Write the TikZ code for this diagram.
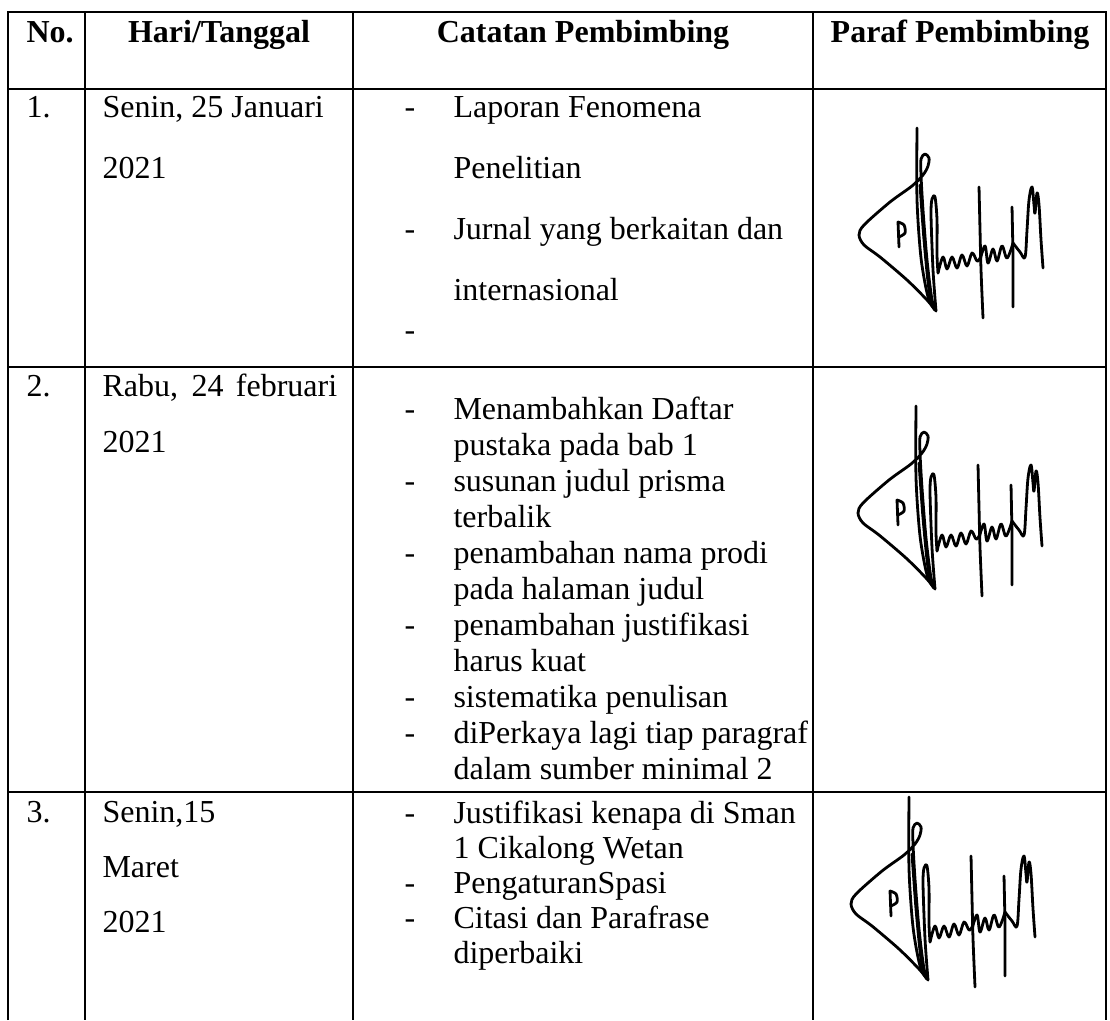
\documentclass[tikz,border=0pt]{standalone}
\usepackage{fontspec}
\setmainfont{Liberation Serif}
\begin{document}
\begin{tikzpicture}[x=0.375pt,y=-0.375pt]
% Gaya
\tikzstyle{cadre}=[line width=0.75pt]
\tikzstyle{isi}=[anchor=base west,inner sep=0pt,font=\fontsize{12}{14}\selectfont]
\tikzstyle{judul}=[anchor=base,inner sep=0pt,font=\fontsize{12}{14}\selectfont\bfseries]
\tikzstyle{tanda}=[line width=1.05pt,line cap=round,line join=round]
% Batas kolom
\def\kiri{8}
\def\kolA{85}
\def\kolB{353}
\def\kolC{813}
\def\kanan{1106}
% Batas baris
\def\atas{12}
\def\barisA{89}
\def\barisB{367}
\def\barisC{792}
\def\bawah{1020}
% Posisi teks
\def\xno{26}
\def\xtgl{102}
\def\xstrip{404}
\def\xcat{453}
% Paraf (tanda tangan)
\def\paraf{%
\draw[tanda] plot[smooth] coordinates {(917,128) (917,200) (921,258) (928,297) (935,310)};
\draw[tanda] plot[smooth] coordinates {(935,310) (927,300) (907,280) (880,257) (864,245) (859,235) (864,225) (890,202) (912,186) (923,175) (928,166) (929,158) (925,154) (921,159) (921,175) (923,210) (927,260) (932,300) (936,311)};
\draw[tanda] plot[smooth] coordinates {(920,185) (924,240) (929,290) (934,308)};
\draw[tanda] plot[smooth] coordinates {(936,311) (933,270) (931,215) (932,199) (935,197) (937,220) (937,255) (938,273)};
\draw[tanda] plot[smooth, tension=0.6] coordinates {(938,273) (943,257) (947,269) (952,257) (957,268) (962,255) (967,266) (972,253) (977,261) (980,258)};
\draw[tanda] plot[smooth] coordinates {(979,187) (980,230) (981,270) (983,318)};
\draw[tanda] plot[smooth, tension=0.6] coordinates {(980,260) (985,246) (988,263) (993,249) (997,261) (1002,246) (1007,258) (1013,243)};
\draw[tanda] plot[smooth] coordinates {(1012,207) (1013,260) (1013,307)};
\draw[tanda] plot[smooth, tension=0.6] coordinates {(1013,243) (1020,252) (1025,257) (1027,230) (1029,200) (1032,187) (1034,205) (1035,213) (1037,193) (1039,205) (1041,240) (1043,268)};
\draw[tanda] (898,222) -- (899,247);
\draw[tanda] plot[smooth] coordinates {(898,222) (904,225) (905,233) (899,237)};
}
\useasboundingbox (0,0) rectangle (1110,1020);
% Bingkai tabel
\draw[cadre] (\kiri,\bawah) -- (\kiri,\atas) -- (\kanan,\atas) -- (\kanan,\bawah);
\draw[cadre] (\kolA,\atas) -- (\kolA,\bawah);
\draw[cadre] (\kolB,\atas) -- (\kolB,\bawah);
\draw[cadre] (\kolC,\atas) -- (\kolC,\bawah);
\draw[cadre] (\kiri,\barisA) -- (\kanan,\barisA);
\draw[cadre] (\kiri,\barisB) -- (\kanan,\barisB);
\draw[cadre] (\kiri,\barisC) -- (\kanan,\barisC);
% Baris judul
\node[isi,font=\fontsize{12}{14}\selectfont\bfseries] (noJ) at (\xno,43) {No.};
\node[judul] (hariJ) at (219,43) {Hari/Tanggal};
\node[judul] (catJ) at (583,43) {Catatan Pembimbing};
\node[judul] (parafJ) at (960,43) {Paraf Pembimbing};
% Baris 1
\node[isi] (no1) at (\xno,117) {1.};
\node[isi] (tgl1a) at (\xtgl,117) {Senin, 25 Januari};
\node[isi] (tgl1b) at (\xtgl,178) {2021};
\node[isi] (strip1a) at (\xstrip,117) {-};
\node[isi] (cat1a) at (\xcat,117) {Laporan Fenomena};
\node[isi] (cat1b) at (\xcat,178) {Penelitian};
\node[isi] (strip1b) at (\xstrip,239) {-};
\node[isi] (cat1c) at (\xcat,239) {Jurnal yang berkaitan dan};
\node[isi] (cat1d) at (\xcat,300) {internasional};
\node[isi] (strip1c) at (\xstrip,340) {-};
\paraf
% Baris 2
\node[isi] (no2) at (\xno,396) {2.};
\node[isi] (tgl2a) at (\xtgl,396) {\makebox[88pt][s]{Rabu, 24 februari}};
\node[isi] (tgl2b) at (\xtgl,452) {2021};
\node[isi] (strip2a) at (\xstrip,419) {-};
\node[isi] (cat2a) at (\xcat,419) {Menambahkan Daftar};
\node[isi] (cat2b) at (\xcat,455) {pustaka pada bab 1};
\node[isi] (strip2b) at (\xstrip,491) {-};
\node[isi] (cat2c) at (\xcat,491) {susunan judul prisma};
\node[isi] (cat2d) at (\xcat,527) {terbalik};
\node[isi] (strip2c) at (\xstrip,563) {-};
\node[isi] (cat2e) at (\xcat,563) {penambahan nama prodi};
\node[isi] (cat2f) at (\xcat,599) {pada halaman judul};
\node[isi] (strip2d) at (\xstrip,635) {-};
\node[isi] (cat2g) at (\xcat,635) {penambahan justifikasi};
\node[isi] (cat2h) at (\xcat,671) {harus kuat};
\node[isi] (strip2e) at (\xstrip,707) {-};
\node[isi] (cat2i) at (\xcat,707) {sistematika penulisan};
\node[isi] (strip2f) at (\xstrip,743) {-};
\node[isi] (cat2j) at (\xcat,743) {diPerkaya lagi tiap paragraf};
\node[isi] (cat2k) at (\xcat,779) {dalam sumber minimal 2};
\begin{scope}[shift={(-1,278)}]
\paraf
\end{scope}
% Baris 3
\node[isi] (no3) at (\xno,822) {3.};
\node[isi] (tgl3a) at (\xtgl,822) {Senin,15};
\node[isi] (tgl3b) at (\xtgl,877) {Maret};
\node[isi] (tgl3c) at (\xtgl,932) {2021};
\node[isi] (strip3a) at (\xstrip,823) {-};
\node[isi] (cat3a) at (\xcat,823) {Justifikasi kenapa di Sman};
\node[isi] (cat3b) at (\xcat,858) {1 Cikalong Wetan};
\node[isi] (strip3b) at (\xstrip,893) {-};
\node[isi] (cat3c) at (\xcat,893) {PengaturanSpasi};
\node[isi] (strip3c) at (\xstrip,928) {-};
\node[isi] (cat3d) at (\xcat,928) {Citasi dan Parafrase};
\node[isi] (cat3e) at (\xcat,963) {diperbaiki};
\begin{scope}[shift={(-8,669)}]
\paraf
\end{scope}
\end{tikzpicture}
\end{document}
